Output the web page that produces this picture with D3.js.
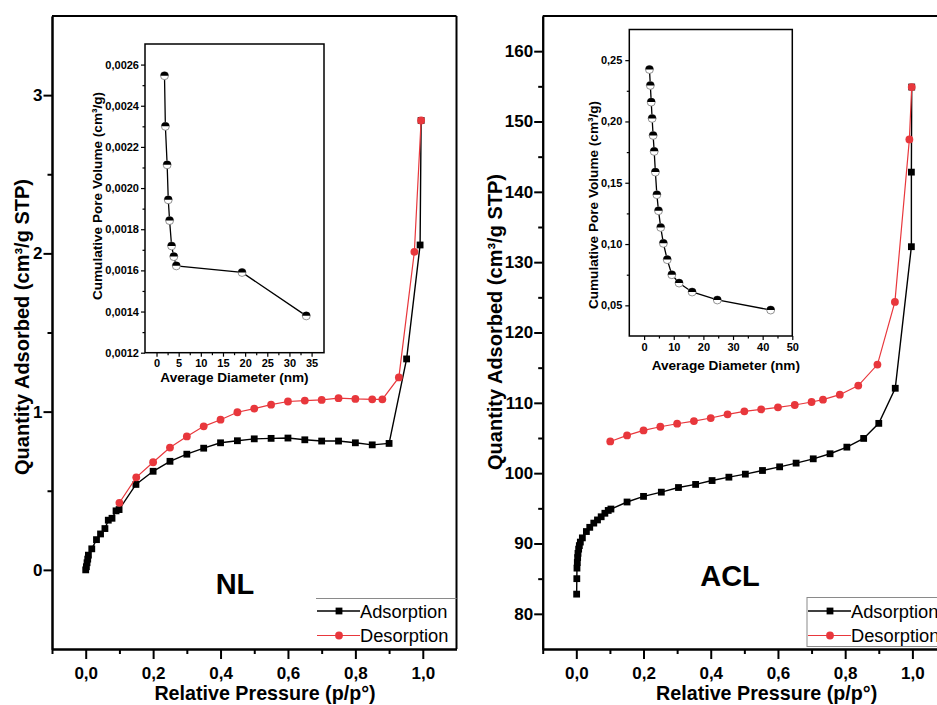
<!DOCTYPE html>
<html>
<head>
<meta charset="utf-8">
<script src="https://cdn.jsdelivr.net/npm/d3@7"></script>
<style>
  body { margin: 0; background: #fff; }
  svg { display: block; font-family: "Liberation Sans", Arial, Helvetica, sans-serif; }
</style>
</head>
<body>
<svg id="chart" width="937" height="705"></svg>
<script>
// ---- NL: N2 isotherm (relative pressure, quantity adsorbed cm3/g STP) ----
const nlAdsP = [0.000, 0.002, 0.004, 0.006, 0.008, 0.018, 0.032, 0.044, 0.057, 0.067, 0.078, 0.090, 0.099,
                0.149, 0.200, 0.250, 0.300, 0.350, 0.400, 0.450, 0.500, 0.550, 0.600, 0.650, 0.700, 0.750,
                0.800, 0.850, 0.900, 0.952, 0.992, 0.995];
const nlAdsQ = [0.000, 0.020, 0.045, 0.068, 0.093, 0.133, 0.191, 0.227, 0.261, 0.314, 0.326, 0.373, 0.381,
                0.540, 0.623, 0.686, 0.731, 0.769, 0.803, 0.816, 0.828, 0.831, 0.833, 0.822, 0.814, 0.814,
                0.803, 0.790, 0.799, 1.333, 2.053, 2.840];
const nlDesP = [0.995, 0.975, 0.929, 0.880, 0.850, 0.800, 0.750, 0.700, 0.650, 0.600, 0.550, 0.500,
                0.450, 0.400, 0.350, 0.300, 0.250, 0.200, 0.150, 0.100];
const nlDesQ = [2.840, 2.010, 1.216, 1.078, 1.078, 1.080, 1.085, 1.074, 1.070, 1.064, 1.044, 1.019,
                0.996, 0.949, 0.907, 0.843, 0.773, 0.680, 0.585, 0.424];

// ---- ACL: N2 isotherm ----
const aclAdsP = [0.001, 0.0015, 0.002, 0.003, 0.004, 0.005, 0.007, 0.009, 0.012, 0.018, 0.030, 0.040,
                 0.052, 0.063, 0.074, 0.085, 0.095, 0.103, 0.151, 0.200, 0.253, 0.304, 0.355, 0.404,
                 0.454, 0.503, 0.554, 0.605, 0.654, 0.705, 0.755, 0.805, 0.855, 0.900, 0.949, 0.997,
                 0.997, 0.998];
const aclAdsQ = [82.8, 85.0, 86.5, 87.3, 88.0, 88.6, 89.2, 89.7, 90.2, 90.8, 91.7, 92.3,
                 92.9, 93.35, 93.8, 94.3, 94.7, 94.9, 95.9, 96.7, 97.3, 97.96, 98.4, 98.95,
                 99.43, 99.86, 100.38, 100.9, 101.43, 102.04, 102.76, 103.7, 104.94, 107.08, 112.07, 132.2,
                 142.8, 154.9];
const aclDesP = [0.998, 0.991, 0.948, 0.896, 0.839, 0.784, 0.734, 0.700, 0.650, 0.600, 0.550, 0.500,
                 0.450, 0.400, 0.350, 0.300, 0.250, 0.200, 0.151, 0.101];
const aclDesQ = [154.9, 147.45, 124.35, 115.44, 112.45, 111.16, 110.45, 110.12, 109.69, 109.36, 109.07, 108.79,
                 108.36, 107.84, 107.41, 107.03, 106.6, 106.08, 105.37, 104.51];

// ---- Cumulative pore volume vs average pore diameter ----
const nlPoreD = [1.8, 2.0, 2.4, 2.65, 2.95, 3.4, 3.9, 4.47, 19.3, 33.8];
const nlPoreV = [0.002546, 0.00230, 0.002113, 0.001943, 0.001842, 0.001719, 0.001667, 0.001622, 0.00159, 0.001379];
const aclPoreD = [1.8, 2.1, 2.4, 2.7, 3.04, 3.4, 3.8, 4.3, 4.85, 5.6, 6.5, 7.8, 9.35, 11.8, 16.2, 24.7, 42.7];
const aclPoreV = [0.2424, 0.2294, 0.2158, 0.2025, 0.1886, 0.1756, 0.1587, 0.1403, 0.1272, 0.1136, 0.1006,
                  0.0873, 0.075, 0.0682, 0.0609, 0.0544, 0.0462];

// ---- tick values ----
const pressureTicks = [0, 0.2, 0.4, 0.6, 0.8, 1.0];
const pressureMinor = [-0.1, 0.1, 0.3, 0.5, 0.7, 0.9];
const nlQTicks = [0, 1, 2, 3];
const nlQMinor = [0.5, 1.5, 2.5];
const aclQTicks = [80, 90, 100, 110, 120, 130, 140, 150, 160];
const aclQMinor = [85, 95, 105, 115, 125, 135, 145, 155];
const nlDTicks = [0, 5, 10, 15, 20, 25, 30, 35];
const nlDMinor = [2.5, 7.5, 12.5, 17.5, 22.5, 27.5, 32.5];
const nlVTicks = [0.0012, 0.0014, 0.0016, 0.0018, 0.0020, 0.0022, 0.0024, 0.0026];
const nlVMinor = [0.0013, 0.0015, 0.0017, 0.0019, 0.0021, 0.0023, 0.0025];
const aclDTicks = [0, 10, 20, 30, 40, 50];
const aclDMinor = [5, 15, 25, 35, 45];
const aclVTicks = [0.05, 0.10, 0.15, 0.20, 0.25];
const aclVMinor = [0.075, 0.125, 0.175, 0.225];

const RED = "#e8373c";
const svg = d3.select("#chart");
const comma = digits => v => v.toFixed(digits).replace(".", ",");

function styleAxis(g, fontSize, weight, width) {
  g.select(".domain").attr("stroke", "#000").attr("stroke-width", width);
  g.selectAll(".tick line").attr("stroke", "#000").attr("stroke-width", width);
  g.selectAll(".tick text")
    .attr("fill", "#000")
    .style("font-size", fontSize + "px")
    .style("font-weight", weight)
    .style("font-family", '"Liberation Sans", Arial, sans-serif');
}

// Main isotherm panel with legend
function isothermPanel(o) {
  const x = d3.scaleLinear().domain(o.xDomain).range([o.left, o.right]);
  const y = d3.scaleLinear().domain(o.yDomain).range([o.bottom, o.top]);
  const g = svg.append("g");

  // frame top and right
  g.append("line").attr("x1", o.left).attr("x2", o.right).attr("y1", o.top).attr("y2", o.top)
    .attr("stroke", "#000").attr("stroke-width", 2);
  g.append("line").attr("x1", o.right).attr("x2", o.right).attr("y1", o.top).attr("y2", o.bottom)
    .attr("stroke", "#000").attr("stroke-width", 2);

  // minor ticks
  g.append("g").attr("transform", `translate(0,${o.bottom})`)
    .call(d3.axisBottom(x).tickValues(pressureMinor).tickSize(5).tickSizeOuter(0).tickFormat(""))
    .call(a => styleAxis(a, 17, "bold", 2));
  g.append("g").attr("transform", `translate(${o.left},0)`)
    .call(d3.axisLeft(y).tickValues(o.yMinor).tickSize(4.5).tickSizeOuter(0).tickFormat(""))
    .call(a => styleAxis(a, 17, "bold", 2));

  // major ticks + labels
  g.append("g").attr("transform", `translate(0,${o.bottom})`)
    .call(d3.axisBottom(x).tickValues(pressureTicks).tickSize(10).tickPadding(8).tickSizeOuter(0).tickFormat(comma(1)))
    .call(a => styleAxis(a, 17, "bold", 2));
  g.append("g").attr("transform", `translate(${o.left},0)`)
    .call(d3.axisLeft(y).tickValues(o.yTicks).tickSize(8.5).tickPadding(1).tickSizeOuter(0).tickFormat(d3.format("d")))
    .call(a => styleAxis(a, 17, "bold", 2));

  // axis titles
  g.append("text").attr("x", o.xTitleX).attr("y", 700).attr("text-anchor", "middle")
    .style("font-size", "19.7px").style("font-weight", "bold").text("Relative Pressure (p/p°)");
  g.append("text").attr("transform", `translate(${o.yTitleX},${o.yTitleY}) rotate(-90)`)
    .attr("text-anchor", "middle").attr("dy", "0.35em")
    .style("font-size", "20px").style("font-weight", "bold").text("Quantity Adsorbed (cm³/g STP)");

  // sample label
  g.append("text").attr("x", o.nameX).attr("y", o.nameY).attr("text-anchor", "middle").attr("dy", "0.36em")
    .style("font-size", "29px").style("font-weight", "bold").text(o.name);

  const line = d3.line().x(d => x(d[0])).y(d => y(d[1]));
  const ads = d3.zip(o.adsP, o.adsQ);
  const des = d3.zip(o.desP, o.desQ);

  g.append("path").datum(ads).attr("d", line).attr("fill", "none").attr("stroke", "#000").attr("stroke-width", 1.4);
  g.selectAll(".ads").data(ads).join("rect").attr("class", "ads")
    .attr("x", d => x(d[0]) - 3.4).attr("y", d => y(d[1]) - 3.4).attr("width", 6.8).attr("height", 6.8).attr("fill", "#000");

  g.append("path").datum(des).attr("d", line).attr("fill", "none").attr("stroke", RED).attr("stroke-width", 1.2);
  g.selectAll(".des").data(des).join("circle").attr("class", "des")
    .attr("cx", d => x(d[0])).attr("cy", d => y(d[1])).attr("r", 3.9).attr("fill", RED);

  // legend
  const lg = g.append("g");
  if (o.legendBox) {
    lg.append("rect").attr("x", o.legX).attr("y", 597.5).attr("width", 150).attr("height", 49)
      .attr("fill", "#fff").attr("stroke", "#8a8a8a").attr("stroke-width", 1);
  } else {
    lg.append("line").attr("x1", o.legX).attr("x2", o.right).attr("y1", 598.5).attr("y2", 598.5)
      .attr("stroke", "#8a8a8a").attr("stroke-width", 1);
  }
  const lx = o.legX + 1;
  const rows = [
    { label: "Adsorption", color: "#000", sq: true, y: 611 },
    { label: "Desorption", color: RED, sq: false, y: 635.5 }
  ];
  rows.forEach(r => {
    lg.append("line").attr("x1", lx).attr("x2", lx + 43).attr("y1", r.y).attr("y2", r.y)
      .attr("stroke", r.color).attr("stroke-width", r.sq ? 1.4 : 1.2);
    if (r.sq) {
      lg.append("rect").attr("x", lx + 22 - 3.4).attr("y", r.y - 3.4).attr("width", 6.8).attr("height", 6.8).attr("fill", "#000");
    } else {
      lg.append("circle").attr("cx", lx + 22).attr("cy", r.y).attr("r", 3.9).attr("fill", RED);
    }
    lg.append("text").attr("x", lx + 43).attr("y", r.y).attr("dy", "0.36em")
      .style("font-size", "18.3px").text(r.label);
  });
}

// Inset: cumulative pore volume
function poreInset(o) {
  const x = d3.scaleLinear().domain(o.xDomain).range([o.left, o.right]);
  const y = d3.scaleLinear().domain(o.yDomain).range([o.bottom, o.top]);
  const g = svg.append("g");
  g.append("rect").attr("x", o.left).attr("y", o.top).attr("width", o.right - o.left).attr("height", o.bottom - o.top)
    .attr("fill", "#fff").attr("stroke", "#000").attr("stroke-width", 1.5);

  g.append("g").attr("transform", `translate(0,${o.bottom})`)
    .call(d3.axisBottom(x).tickValues(o.xMinor).tickSize(2.5).tickSizeOuter(0).tickFormat(""))
    .call(a => styleAxis(a, 11, "bold", 1.2));
  g.append("g").attr("transform", `translate(${o.left},0)`)
    .call(d3.axisLeft(y).tickValues(o.yMinor).tickSize(2.5).tickSizeOuter(0).tickFormat(""))
    .call(a => styleAxis(a, 11, "bold", 1.2));
  g.append("g").attr("transform", `translate(0,${o.bottom})`)
    .call(d3.axisBottom(x).tickValues(o.xTicks).tickSize(4).tickPadding(3).tickSizeOuter(0).tickFormat(d3.format("d")))
    .call(a => styleAxis(a, 11, "bold", 1.2));
  g.append("g").attr("transform", `translate(${o.left},0)`)
    .call(d3.axisLeft(y).tickValues(o.yTicks).tickSize(4).tickPadding(o.yPad).tickSizeOuter(0).tickFormat(comma(o.yDigits)))
    .call(a => styleAxis(a, 11, "bold", 1.2));
  g.selectAll(".domain").attr("stroke", "none");

  g.append("text").attr("x", o.xTitleX).attr("y", o.xTitleY).attr("text-anchor", "middle")
    .style("font-size", "13.6px").style("font-weight", "bold").text("Average Diameter (nm)");
  g.append("text").attr("transform", `translate(${o.yTitleX},${o.yTitleY}) rotate(-90)`)
    .attr("text-anchor", "middle").attr("dy", "0.35em")
    .style("font-size", "13.6px").style("font-weight", "bold").text("Cumulative Pore Volume (cm³/g)");

  const pts = d3.zip(o.d, o.v);
  g.append("path").datum(pts).attr("d", d3.line().x(d => x(d[0])).y(d => y(d[1])))
    .attr("fill", "none").attr("stroke", "#000").attr("stroke-width", 1.3);
  const r = 4;
  const m = g.selectAll(".pm").data(pts).join("g").attr("class", "pm")
    .attr("transform", d => `translate(${x(d[0])},${y(d[1])})`);
  m.append("circle").attr("r", r).attr("fill", "#fff").attr("stroke", "#777").attr("stroke-width", 0.8);
  m.append("path").attr("d", `M${-r},0 A${r},${r} 0 0 1 ${r},0 Z`).attr("fill", "#000");
}

isothermPanel({
  left: 52, right: 456.5, top: 16, bottom: 649,
  xDomain: [-0.1, 1.1], yDomain: [-0.5, 3.5],
  yTicks: nlQTicks, yMinor: nlQMinor,
  adsP: nlAdsP, adsQ: nlAdsQ, desP: nlDesP, desQ: nlDesQ,
  xTitleX: 265, yTitleX: 21.5, yTitleY: 327,
  name: "NL", nameX: 235, nameY: 583.5,
  legX: 316, legendBox: false
});

isothermPanel({
  left: 542.7, right: 946, top: 16, bottom: 649,
  xDomain: [-0.1, 1.1], yDomain: [75, 165],
  yTicks: aclQTicks, yMinor: aclQMinor,
  adsP: aclAdsP, adsQ: aclAdsQ, desP: aclDesP, desQ: aclDesQ,
  xTitleX: 766.7, yTitleX: 495, yTitleY: 322,
  name: "ACL", nameX: 730, nameY: 575.5,
  legX: 807, legendBox: true
});

poreInset({
  left: 145, right: 324, top: 44, bottom: 352.7,
  xDomain: [-2.6, 37.8], yDomain: [0.0012, 0.0027],
  xTicks: nlDTicks, xMinor: nlDMinor, yTicks: nlVTicks, yMinor: nlVMinor,
  yDigits: 4, yPad: 2,
  d: nlPoreD, v: nlPoreV,
  xTitleX: 234.5, xTitleY: 382, yTitleX: 97.3, yTitleY: 196
});

poreInset({
  left: 629.3, right: 792.3, top: 29.5, bottom: 336,
  xDomain: [-5, 50], yDomain: [0.025, 0.275],
  xTicks: aclDTicks, xMinor: aclDMinor, yTicks: aclVTicks, yMinor: aclVMinor,
  yDigits: 2, yPad: 3,
  d: aclPoreD, v: aclPoreV,
  xTitleX: 725.8, xTitleY: 370, yTitleX: 593.3, yTitleY: 205
});
</script>
</body>
</html>
